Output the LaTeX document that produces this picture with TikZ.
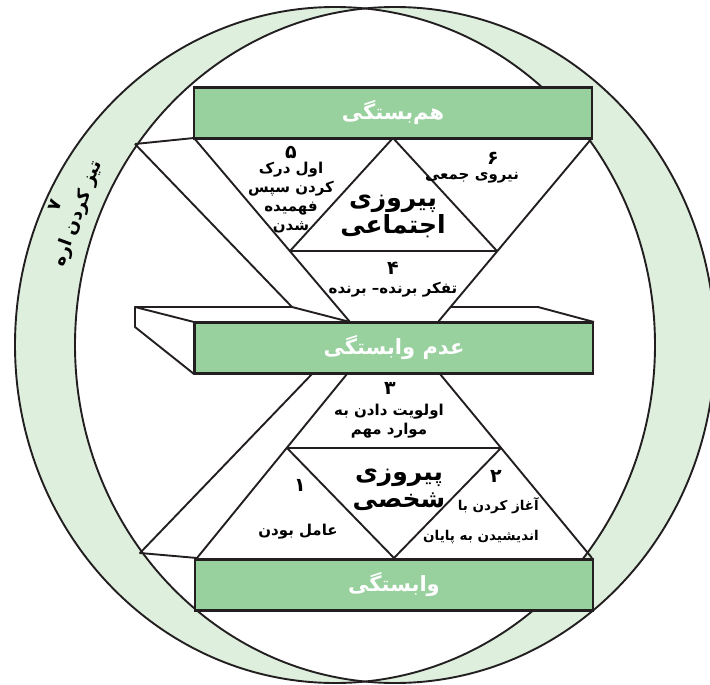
\documentclass[tikz,border=0pt]{standalone}
\usepackage{fontspec}
\newfontfamily\farsi[Script=Arabic]{DejaVu Sans}
\TeXXeTstate=1
\newcommand\rtl[1]{\beginR #1\endR}
\definecolor{verdebarra}{RGB}{152,208,158}
\definecolor{verdeanillo}{RGB}{222,239,222}
\definecolor{borde}{RGB}{35,31,32}

\begin{document}
\begin{tikzpicture}[
    x=1pt, y=-1pt,
    linea/.style    = {draw=borde, line width=1.9pt, line join=round},
    barra/.style    = {rectangle, fill=verdebarra, draw=borde, line width=2.4pt,
                       minimum width=398pt, minimum height=51pt, text=white,
                       font=\farsi\bfseries\fontsize{21}{24}\selectfont},
    numero/.style   = {font=\farsi\bfseries\fontsize{19}{22}\selectfont, inner sep=0pt},
    habito/.style   = {font=\farsi\bfseries\fontsize{15}{19}\selectfont, align=center, inner sep=0pt},
    victoria/.style = {font=\farsi\bfseries\fontsize{25}{27}\selectfont, align=center, inner sep=0pt},
  ]
  \useasboundingbox (0,0) rectangle (710,685);
  % Anillo (dos elipses, verde claro)
  \fill[verdeanillo, even odd rule]
    (335,345) ellipse [x radius=320, y radius=338]
    (395,345) ellipse [x radius=320, y radius=338];
  \draw[linea] (335,345) ellipse [x radius=320, y radius=338];
  \draw[linea] (395,345) ellipse [x radius=320, y radius=338];
  \node[habito, rotate=70, font=\farsi\bfseries\fontsize{18}{24}\selectfont]
    (h7) at (68,210) {\rtl{۷}\\\rtl{تیز کردن اره}};
  % Losa de la barra media
  \draw[linea, fill=white] (135,307) -- (194,322) -- (194,374) -- (135,327) -- cycle;
  \draw[linea] (135,307) -- (292,307);
  \draw[linea] (451,307) -- (538,307) -- (594,322);
  % Banda izquierda superior
  \draw[linea] (135,144) -- (194,138);
  \draw[linea] (135,144) -- (292,307) -- (350,322);
  % V superior y victoria publica
  \draw[linea] (194,138) -- (350,322);
  \draw[linea] (592,138) -- (438,322);
  \draw[linea] (393,138) -- (290,251) -- (497,251) -- cycle;
  % Banda izquierda inferior
  \draw[linea] (312,374) -- (140,553) -- (197,558);
  % A inferior y victoria privada
  \draw[linea] (347,374) -- (197,558);
  \draw[linea] (440,374) -- (592,558);
  \draw[linea] (287,448) -- (501,448) -- (394,558) -- cycle;
  % Barras
  \node[barra] (sup) at (393,113) {\rtl{هم‌بستگی}};
  \node[barra] (med) at (394,348) {\rtl{عدم وابستگی}};
  \node[barra] (inf) at (394,585) {\rtl{وابستگی}};
  % Victorias
  \node[victoria] (publica) at (393,216) {\rtl{پیروزی}\\\rtl{اجتماعی}};
  \node[victoria] (privada) at (399,490) {\rtl{پیروزی}\\\rtl{شخصی}};
  % Numeros de los habitos
  \foreach \i/\d/\x/\y in {1/۱/300/485, 2/۲/496/476, 3/۳/390/388,
                           4/۴/393/268, 5/۵/291/152, 6/۶/493/158}
    \node[numero] (num\i) at (\x,\y) {\rtl{\d}};
  % Habitos
  \node[habito] (h1) at (298,532) {\rtl{عامل بودن}};
  \node[habito, align=right, anchor=east, font=\farsi\bfseries\fontsize{13.5}{17}\selectfont]
    (h2) at (539,521) {\rtl{آغاز کردن با}\\[13pt]\rtl{اندیشیدن به پایان}};
  \node[habito] (h3) at (389,421) {\rtl{اولویت دادن به}\\\rtl{موارد مهم}};
  \node[habito] (h4) at (393,290) {\rtl{تفکر برنده– برنده}};
  \node[habito] (h5) at (291,198) {\rtl{اول درک}\\\rtl{کردن سپس}\\\rtl{فهمیده}\\\rtl{شدن}};
  \node[habito] (h6) at (472,178) {\rtl{نیروی جمعی}};
\end{tikzpicture}
\end{document}
